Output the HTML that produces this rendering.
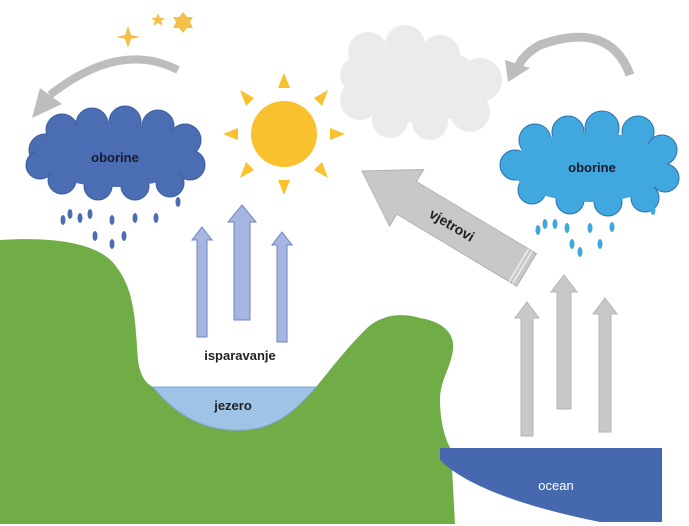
<!DOCTYPE html>
<html><head><meta charset="utf-8"><style>
html,body{margin:0;padding:0;background:#fff;}
svg{display:block;}
text{font-family:"Liberation Sans",sans-serif;}
</style></head><body>
<svg width="689" height="526" viewBox="0 0 689 526" xmlns="http://www.w3.org/2000/svg">
<rect width="689" height="526" fill="#fff"/>
<!-- grey cloud -->
<g fill="#ebebeb">
<circle cx="368" cy="52" r="20"/><circle cx="405" cy="45" r="20"/><circle cx="440" cy="55" r="20"/>
<circle cx="480" cy="80" r="22"/><circle cx="470" cy="112" r="20"/><circle cx="430" cy="122" r="18"/>
<circle cx="390" cy="120" r="18"/><circle cx="360" cy="100" r="20"/><circle cx="358" cy="75" r="18"/>
<ellipse cx="420" cy="85" rx="65" ry="38"/>
</g>
<!-- curved arrows -->
<path d="M178,70 Q120,40 50,95" fill="none" stroke="#bdbdbd" stroke-width="8"/>
<polygon points="32,118 40,88 62,104" fill="#bdbdbd"/>
<path d="M630,75 Q610,20 540,45 Q522,55 518,68" fill="none" stroke="#bdbdbd" stroke-width="9"/>
<polygon points="508,82 505,60 530,68" fill="#bdbdbd"/>
<!-- stars -->
<g fill="#f5c04a">
<path d="M128,26 L131,35 L140,37 L131,39 L128,48 L125,39 L116,37 L125,35Z"/>
<path d="M158,13 L160,18 L165,18 L161,21 L163,26 L158,23 L153,26 L155,21 L151,18 L156,18Z"/>
<path d="M183,12 L187,17 L193,17 L190,22 L193,28 L187,28 L183,33 L179,28 L173,28 L176,22 L173,17 L179,17Z"/>
</g>
<!-- sun -->
<circle cx="284" cy="134" r="33" fill="#f8c12d"/>
<g fill="#f8c12d">
<polygon points="284,73 278,88 290,88"/><polygon points="284,195 278,180 290,180"/>
<polygon points="223,134 238,128 238,140"/><polygon points="345,134 330,128 330,140"/>
<polygon points="240,90 254,98 246,106"/><polygon points="328,90 314,98 322,106"/>
<polygon points="240,178 254,170 246,162"/><polygon points="328,178 314,170 322,162"/>
</g>
<!-- left cloud -->
<g fill="#4a6db3" stroke="#3d5d9e" stroke-width="1">
<circle cx="45" cy="150" r="16"/><circle cx="62" cy="130" r="16"/><circle cx="92" cy="124" r="16"/>
<circle cx="125" cy="122" r="16"/><circle cx="158" cy="126" r="16"/><circle cx="185" cy="140" r="16"/>
<circle cx="190" cy="165" r="15"/><circle cx="170" cy="183" r="14"/><circle cx="135" cy="186" r="14"/>
<circle cx="98" cy="186" r="14"/><circle cx="62" cy="180" r="14"/><circle cx="40" cy="165" r="14"/>
</g>
<ellipse cx="115" cy="155" rx="80" ry="32" fill="#4a6db3"/>
<text x="115" y="162" font-size="13" font-weight="bold" text-anchor="middle" fill="#1a1a2e">oborine</text>
<g fill="#4a6db3">
<ellipse cx="63" cy="220" rx="2.5" ry="5"/><ellipse cx="70" cy="214" rx="2.5" ry="5"/><ellipse cx="80" cy="218" rx="2.5" ry="5"/>
<ellipse cx="90" cy="214" rx="2.5" ry="5"/><ellipse cx="112" cy="220" rx="2.5" ry="5"/><ellipse cx="135" cy="218" rx="2.5" ry="5"/>
<ellipse cx="156" cy="218" rx="2.5" ry="5"/><ellipse cx="178" cy="202" rx="2.5" ry="5"/><ellipse cx="95" cy="236" rx="2.5" ry="5"/>
<ellipse cx="112" cy="244" rx="2.5" ry="5"/><ellipse cx="124" cy="236" rx="2.5" ry="5"/>
</g>
<!-- right cloud -->
<g fill="#40a8de" stroke="#2e6fb0" stroke-width="1">
<circle cx="515" cy="165" r="15"/><circle cx="535" cy="140" r="16"/><circle cx="568" cy="132" r="16"/>
<circle cx="602" cy="128" r="17"/><circle cx="638" cy="132" r="16"/><circle cx="662" cy="150" r="15"/>
<circle cx="665" cy="178" r="14"/><circle cx="645" cy="198" r="14"/><circle cx="608" cy="202" r="14"/>
<circle cx="570" cy="200" r="14"/><circle cx="532" cy="190" r="14"/>
</g>
<ellipse cx="590" cy="167" rx="78" ry="35" fill="#40a8de"/>
<text x="592" y="172" font-size="13" font-weight="bold" text-anchor="middle" fill="#1a1a2e">oborine</text>
<g fill="#40a8de">
<ellipse cx="538" cy="230" rx="2.5" ry="5"/><ellipse cx="545" cy="224" rx="2.5" ry="5"/><ellipse cx="555" cy="224" rx="2.5" ry="5"/>
<ellipse cx="567" cy="228" rx="2.5" ry="5"/><ellipse cx="590" cy="228" rx="2.5" ry="5"/><ellipse cx="612" cy="227" rx="2.5" ry="5"/>
<ellipse cx="653" cy="210" rx="2.5" ry="5"/><ellipse cx="572" cy="244" rx="2.5" ry="5"/><ellipse cx="580" cy="252" rx="2.5" ry="5"/>
<ellipse cx="600" cy="244" rx="2.5" ry="5"/>
</g>
<!-- wind arrow -->
<g transform="translate(362,171) rotate(31)">
<polygon points="0,0 52,-33 52,-19 192,-19 192,19 52,19 52,33" fill="#c8c8c8" stroke="#b0b0b0" stroke-width="1"/>
<line x1="183" y1="-19" x2="183" y2="19" stroke="#eee" stroke-width="1.5"/>
<line x1="187" y1="-19" x2="187" y2="19" stroke="#eee" stroke-width="1.5"/>
<text x="105" y="5" font-size="14" font-weight="bold" text-anchor="middle" fill="#222">vjetrovi</text>
</g>
<!-- land -->
<path d="M0,240 C60,236 100,245 115,265 C135,290 135,320 138,360 C140,375 145,383 153,387 L316,387 C330,370 345,350 365,330 C380,315 400,312 420,318 C445,322 455,335 453,350 C450,370 440,380 440,400 C440,420 445,440 451,449 L455,524 L0,524Z" fill="#70ad47"/>
<path d="M153,387 L316,387 C300,405 280,428 245,430 C210,432 180,420 153,387Z" fill="#9dc3e6" stroke="#7fa8d8" stroke-width="1"/>
<path d="M440,448 L662,448 L662,522 L600,522 C540,510 470,490 440,460Z" fill="#4668ae"/>
<text x="233" y="410" font-size="13" font-weight="bold" text-anchor="middle" fill="#222">jezero</text>
<text x="556" y="490" font-size="13" text-anchor="middle" fill="#fff">ocean</text>
<!-- evaporation arrows -->
<g fill="#a7b6e0" stroke="#6f86c6" stroke-width="1">
<polygon points="202,227 212,240 207,240 207,337 197,337 197,240 192,240"/>
<polygon points="242,205 256,222 250,222 250,320 234,320 234,222 228,222"/>
<polygon points="282,232 292,245 287,245 287,342 277,342 277,245 272,245"/>
</g>
<text x="240" y="360" font-size="13" font-weight="bold" text-anchor="middle" fill="#222">isparavanje</text>
<g fill="#c8c8c8" stroke="#b5b5b5" stroke-width="1">
<polygon points="527,302 539,318 533,318 533,436 521,436 521,318 515,318"/>
<polygon points="564,275 577,292 571,292 571,409 557,409 557,292 551,292"/>
<polygon points="605,298 617,314 611,314 611,432 599,432 599,314 593,314"/>
</g>
</svg>
</body></html>
